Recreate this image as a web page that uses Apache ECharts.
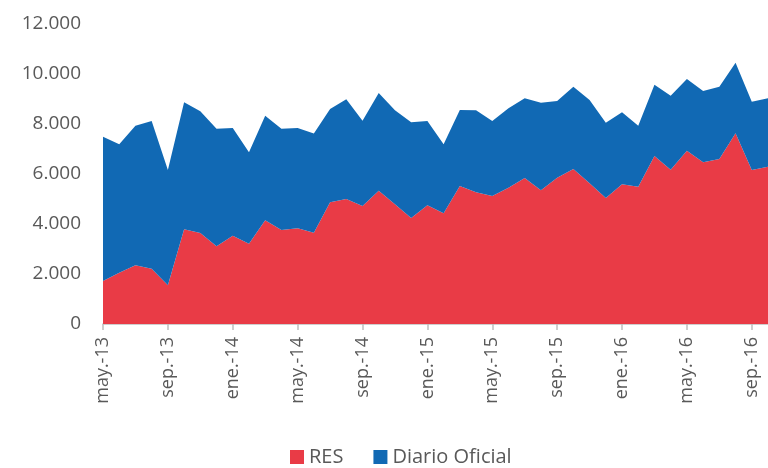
<!DOCTYPE html>
<html>
<head>
<meta charset="utf-8">
<script src="https://cdn.jsdelivr.net/npm/echarts@6/dist/echarts.min.js"></script>
<style>
  html, body { margin: 0; padding: 0; background: #fff; }
  #chart { width: 768px; height: 468px; }
</style>
</head>
<body>
<div id="chart"></div>
<script>
  // meses may-13 .. oct-16
  const months = ['ene.', 'feb.', 'mar.', 'abr.', 'may.', 'jun.', 'jul.', 'ago.', 'sep.', 'oct.', 'nov.', 'dic.']
  const categories = []
  for (let y = 13; y <= 16; y++) {
    months.forEach((m, i) => {
      if (y === 13 && i < 4) return
      if (y === 16 && i > 9) return
      categories.push(m + '-' + y)
    })
  }

  // valores
  const resValues = [
    1720, 2050, 2350, 2210, 1550, 3790, 3640, 3110, 3530, 3210, 4150, 3760,
    3830, 3650, 4870, 5000, 4720, 5330, 4790, 4240, 4750, 4430, 5520, 5270,
    5120, 5450, 5840, 5350, 5850, 6200, 5630, 5040, 5590, 5490, 6720, 6170,
    6930, 6470, 6600, 7630, 6160, 6290
  ]
  const totalValues = [
    7490, 7190, 7930, 8120, 6160, 8870, 8510, 7810, 7840, 6870, 8330, 7810,
    7840, 7620, 8600, 8990, 8130, 9240, 8550, 8070, 8120, 7190, 8560, 8550,
    8120, 8630, 9030, 8850, 8920, 9490, 8960, 8050, 8470, 7930, 9570, 9130,
    9800, 9320, 9490, 10450, 8890, 9030
  ]
  const diarioValues = totalValues.map((t, i) => t - resValues[i])

  const yTicks = { min: 0, max: 12000, interval: 2000 }

  const textColor = '#595959'
  const fontFamily = "'Open Sans', 'Liberation Sans', sans-serif"

  let chart = echarts.init(document.getElementById('chart'))
  chart.setOption({
    animation: false,
    textStyle: { fontFamily: fontFamily },
    grid: {
      left: 103,
      right: -4,
      top: 24,
      bottom: 144
    },
    legend: {
      top: 447,
      left: 290,
      padding: 0,
      itemWidth: 14,
      itemHeight: 14,
      itemGap: 30,
      icon: 'rect',
      textStyle: { color: textColor, fontSize: 20, fontFamily: fontFamily },
      data: ['RES', 'Diario Oficial']
    },
    xAxis: {
      type: 'category',
      boundaryGap: false,
      data: categories,
      axisLine: { lineStyle: { color: '#bfbfbf', width: 1.5 } },
      axisTick: { interval: 3, length: 6, lineStyle: { color: '#bfbfbf', width: 1.5 } },
      axisLabel: {
        interval: 3,
        rotate: 90,
        margin: 13,
        color: textColor,
        fontSize: 18,
        fontFamily: fontFamily
      },
      splitLine: { show: false }
    },
    yAxis: {
      type: 'value',
      min: yTicks.min,
      max: yTicks.max,
      interval: yTicks.interval,
      axisLine: { show: false },
      axisTick: { show: false },
      splitLine: { show: false },
      axisLabel: {
        margin: 22,
        color: textColor,
        fontSize: 19,
        fontFamily: fontFamily,
        padding: [4, 0, 0, 0],
        formatter: v => v.toString().replace(/\B(?=(\d{3})+(?!\d))/g, '.')
      }
    },
    series: [
      {
        name: 'RES',
        type: 'line',
        stack: 'total',
        data: resValues,
        showSymbol: false,
        color: '#e93b46',
        lineStyle: { width: 0 },
        areaStyle: { color: '#e93b46', opacity: 1 }
      },
      {
        name: 'Diario Oficial',
        type: 'line',
        stack: 'total',
        data: diarioValues,
        showSymbol: false,
        color: '#1169b4',
        lineStyle: { width: 0 },
        areaStyle: { color: '#1169b4', opacity: 1 }
      }
    ]
  })
</script>
</body>
</html>
